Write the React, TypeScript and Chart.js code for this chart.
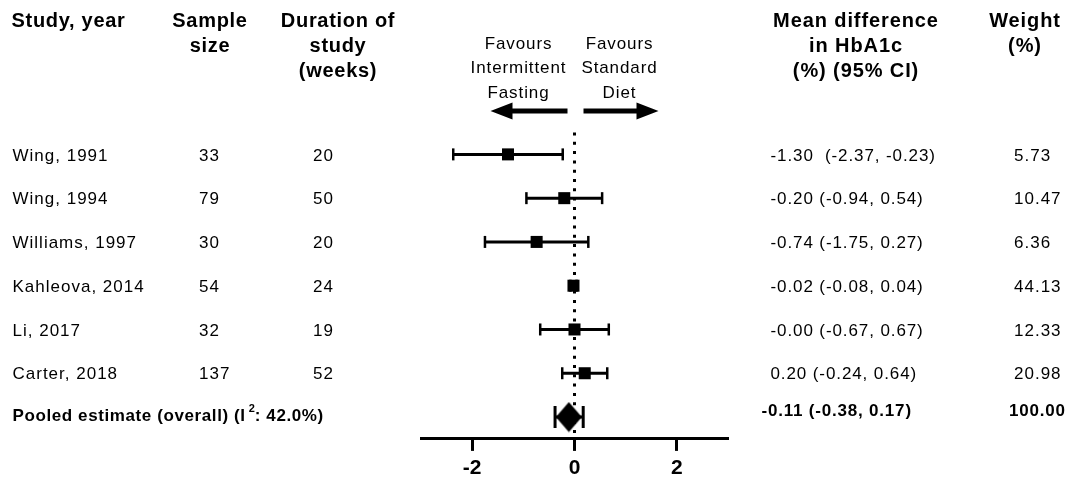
import React, { useEffect, useRef } from "react";
import { Chart, registerables } from "chart.js";

Chart.register(...registerables);

// ---------- data ----------
const studies = ["Wing, 1991", "Wing, 1994", "Williams, 1997", "Kahleova, 2014", "Li, 2017", "Carter, 2018"];
const sampleSizes = ["33", "79", "30", "54", "32", "137"];
const durations = ["20", "50", "20", "24", "19", "52"];
const meanDiff = [-1.3, -0.2, -0.74, -0.02, -0.0, 0.2];
const ciLower = [-2.37, -0.94, -1.75, -0.08, -0.67, -0.24];
const ciUpper = [-0.23, 0.54, 0.27, 0.04, 0.67, 0.64];
const effectLabels = [
  "-1.30  (-2.37, -0.23)",
  "-0.20 (-0.94, 0.54)",
  "-0.74 (-1.75, 0.27)",
  "-0.02 (-0.08, 0.04)",
  "-0.00 (-0.67, 0.67)",
  "0.20 (-0.24, 0.64)",
];
const weights = ["5.73", "10.47", "6.36", "44.13", "12.33", "20.98"];
const pooledLabel = "Pooled estimate (overall) (I";
const pooledI2 = ": 42.0%)";
const pooledMean = -0.11;
const pooledLower = -0.38;
const pooledUpper = 0.17;
const pooledEffectLabel = "-0.11 (-0.38, 0.17)";
const pooledWeight = "100.00";
const xTicks = [-2, 0, 2];
const headerStudy = ["Study, year"];
const headerSample = ["Sample", "size"];
const headerDuration = ["Duration of", "study", "(weeks)"];
const headerEffect = ["Mean difference", "in HbA1c", "(%) (95% CI)"];
const headerWeight = ["Weight", "(%)"];
const favoursLeft = ["Favours", "Intermittent", "Fasting"];
const favoursRight = ["Favours", "Standard", "Diet"];

const FONT = '"Liberation Sans", Arial, Helvetica, sans-serif';

function txt(ctx: CanvasRenderingContext2D, s: string, x: number, y: number, size: number, bold: boolean, align: CanvasTextAlign, spacing = 1) {
  ctx.font = `${bold ? "bold " : ""}${size}px ${FONT}`;
  (ctx as any).letterSpacing = spacing + "px";
  ctx.textAlign = align;
  ctx.textBaseline = "middle";
  ctx.fillStyle = "#000";
  ctx.fillText(s, x, y);
  const w = ctx.measureText(s).width;
  return w;
}

const textPlugin = {
  id: "forestText",
  afterDraw(chart: any) {
    const ctx: CanvasRenderingContext2D = chart.ctx;
    const xs = chart.scales.x;
    const ys = chart.scales.y;
    ctx.save();
    // headers
    const hy = [21, 46, 71];
    headerStudy.forEach((s, i) => txt(ctx, s, 11.5, hy[i], 20, true, "left", 0.7));
    headerSample.forEach((s, i) => txt(ctx, s, 210, hy[i], 20, true, "center", 0.7));
    headerDuration.forEach((s, i) => txt(ctx, s, 338, hy[i], 20, true, "center", 0.7));
    headerEffect.forEach((s, i) => txt(ctx, s, 856, hy[i], 20, true, "center", 0.9));
    headerWeight.forEach((s, i) => txt(ctx, s, 1025, hy[i], 20, true, "center", 0.9));

    const x0 = xs.getPixelForValue(0);
    const fy = [44, 68.5, 93.5];
    favoursLeft.forEach((s, i) => txt(ctx, s, x0 - 56, fy[i], 17, false, "center", 0.9));
    favoursRight.forEach((s, i) => txt(ctx, s, x0 + 45, fy[i], 17, false, "center", 0.9));

    // arrows
    const ay = 111;
    ctx.fillStyle = "#000";
    ctx.beginPath();
    ctx.moveTo(x0 - 84, ay);
    ctx.lineTo(x0 - 62, ay - 8.5);
    ctx.lineTo(x0 - 62, ay - 2.5);
    ctx.lineTo(x0 - 7, ay - 2.5);
    ctx.lineTo(x0 - 7, ay + 2.5);
    ctx.lineTo(x0 - 62, ay + 2.5);
    ctx.lineTo(x0 - 62, ay + 8.5);
    ctx.closePath();
    ctx.fill();
    ctx.beginPath();
    ctx.moveTo(x0 + 84, ay);
    ctx.lineTo(x0 + 62, ay - 8.5);
    ctx.lineTo(x0 + 62, ay - 2.5);
    ctx.lineTo(x0 + 9, ay - 2.5);
    ctx.lineTo(x0 + 9, ay + 2.5);
    ctx.lineTo(x0 + 62, ay + 2.5);
    ctx.lineTo(x0 + 62, ay + 8.5);
    ctx.closePath();
    ctx.fill();

    // rows
    studies.forEach((s, i) => {
      const y = ys.getPixelForValue(i) + 1.5;
      txt(ctx, s, 12.5, y, 17, false, "left", 1);
      txt(ctx, sampleSizes[i], 199, y, 17, false, "left", 1);
      txt(ctx, durations[i], 313, y, 17, false, "left", 1);
      txt(ctx, effectLabels[i], 770.5, y, 17, false, "left", 0.9);
      txt(ctx, weights[i], 1014, y, 17, false, "left", 1);
    });

    // pooled row
    const py = ys.getPixelForValue(studies.length);
    const w1 = txt(ctx, pooledLabel, 12.5, py - 1, 17, true, "left", 0.6);
    const w2 = txt(ctx, "2", 12.5 + w1 + 3, py - 8, 11, true, "left", 0);
    txt(ctx, pooledI2, 12.5 + w1 + 3 + w2, py - 1, 17, true, "left", 0.6);
    txt(ctx, pooledEffectLabel, 761.5, py - 6, 17, true, "left", 0.8);
    txt(ctx, pooledWeight, 1009, py - 6, 17, true, "left", 0.8);
    ctx.restore();
  },
};

function makeDiamond(): HTMLCanvasElement {
  const c = document.createElement("canvas");
  c.width = 27;
  c.height = 31;
  const g = c.getContext("2d")!;
  g.fillStyle = "#000";
  g.beginPath();
  g.moveTo(0.5, 15.5);
  g.lineTo(13.5, 0.5);
  g.lineTo(26.5, 15.5);
  g.lineTo(13.5, 30.5);
  g.closePath();
  g.fill();
  return c;
}

export default function App() {
  const ref = useRef<HTMLCanvasElement | null>(null);
  useEffect(() => {
    if (!ref.current) return;
    const diamond = makeDiamond();
    const n = studies.length;
    const ciSets = studies.map((s, i) => ({
      label: s,
      data: [
        { x: ciLower[i], y: i },
        { x: ciUpper[i], y: i },
      ],
      showLine: true,
      borderColor: "#000",
      borderWidth: 3,
      pointStyle: "line",
      pointRotation: 90,
      pointRadius: 6,
      pointBorderWidth: 2.5,
      pointBorderColor: "#000",
      pointBackgroundColor: "#000",
      order: 2,
      clip: false,
    }));
    const chart = new Chart(ref.current, {
      type: "scatter",
      data: {
        datasets: [
          {
            label: "Mean difference",
            data: meanDiff.map((m, i) => ({ x: m, y: i })),
            pointStyle: "rect",
            pointRadius: 8.5,
            pointBorderWidth: 0,
            pointBackgroundColor: "#000",
            pointBorderColor: "#000",
            order: 0,
            clip: false,
          },
          {
            label: "Pooled",
            data: [{ x: pooledMean, y: n }],
            pointStyle: diamond,
            pointRadius: 14,
            order: 0,
            clip: false,
          },
          ...ciSets,
          {
            label: "Pooled CI",
            data: [
              { x: pooledLower, y: n },
              { x: pooledUpper, y: n },
            ],
            showLine: true,
            borderColor: "#000",
            borderWidth: 3,
            pointStyle: "line",
            pointRotation: 90,
            pointRadius: 11,
            pointBorderWidth: 3,
            pointBorderColor: "#000",
            order: 2,
            clip: false,
          },
          {
            label: "No effect",
            data: [
              { x: 0, y: -0.5 },
              { x: 0, y: n + 0.5 },
            ],
            showLine: true,
            borderColor: "#000",
            borderWidth: 3,
            borderDash: [3, 6.3],
            pointRadius: 0,
            order: 5,
            clip: false,
          },
        ] as any,
      },
      options: {
        animation: false,
        responsive: false,
        events: [],
        layout: { padding: { left: 421, right: 347, top: 132.5, bottom: -7 } },
        plugins: { legend: { display: false }, tooltip: { enabled: false } },
        scales: {
          x: {
            type: "linear",
            min: -3,
            max: 3,
            position: "bottom",
            afterBuildTicks: (axis: any) => {
              axis.ticks = xTicks.map((v) => ({ value: v }));
            },
            grid: {
              display: true,
              drawOnChartArea: false,
              drawTicks: true,
              tickLength: 12,
              tickWidth: 3,
              tickColor: "#000",
              color: "#000",
            },
            border: { display: true, color: "#000", width: 3 },
            ticks: {
              color: "#000",
              padding: 6,
              font: { family: FONT, size: 21, weight: "bold", lineHeight: 1.1 },
              callback: (v: any) => String(v),
            },
          },
          y: {
            type: "linear",
            min: -0.5,
            max: n + 0.5,
            reverse: true,
            display: false,
          },
        },
      } as any,
      plugins: [textPlugin],
    });
    return () => chart.destroy();
  }, []);
  return (
    <div style={{ position: "fixed", left: 0, top: 0, width: 1075, height: 479, background: "#fff" }}>
      <canvas ref={ref} width={1075} height={479} />
    </div>
  );
}
